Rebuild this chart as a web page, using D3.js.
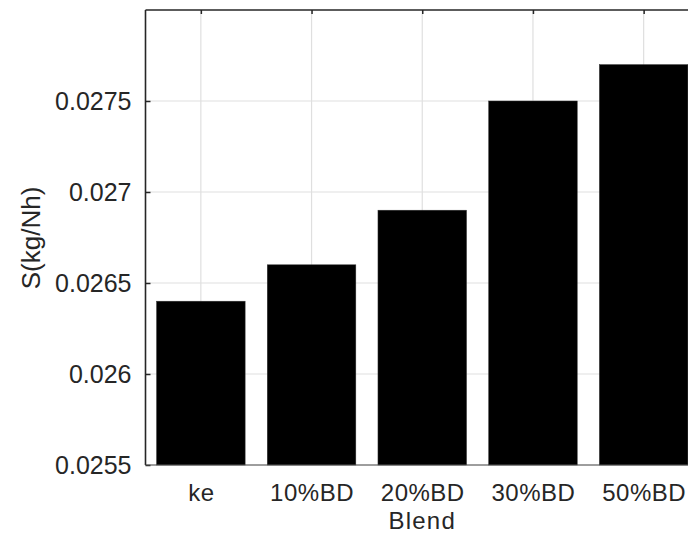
<!DOCTYPE html>
<html><head><meta charset="utf-8">
<script src="https://cdn.jsdelivr.net/npm/d3@7"></script>
<style>
html,body{margin:0;padding:0;background:#fff;overflow:hidden}
text{font-family:"Liberation Sans",Arial,Helvetica,sans-serif;fill:#262626}
</style></head><body>
<svg id="chart" width="688" height="534"></svg>
<script>
const categories = ["ke", "10%BD", "20%BD", "30%BD", "50%BD"];
const values = [0.0264, 0.0266, 0.0269, 0.0275, 0.0277];
const yTicks = [0.0255, 0.026, 0.0265, 0.027, 0.0275];
const yTickLabels = ["0.0255", "0.026", "0.0265", "0.027", "0.0275"];
const xTitle = "Blend";
const yTitle = "S(kg/Nh)";

const svg = d3.select("#chart");
const L = 145.5, R = 699, T = 10, B = 465;
const idx = categories.map((d, i) => i + 1);
const x = d3.scaleLinear().domain([0.5, 5.5]).range([L, R]);
const y = d3.scaleLinear().domain([0.0255, 0.028]).range([B, T]);
const barW = 0.8;
const FONT = "'Liberation Sans', Arial, sans-serif";

// grid
const g = svg.append("g");
g.selectAll("line.gx").data(idx).enter().append("line")
  .attr("x1", d => x(d)).attr("x2", d => x(d)).attr("y1", T).attr("y2", B)
  .attr("stroke", "#dfdfdf").attr("stroke-width", 1.2);
g.selectAll("line.gy").data(yTicks).enter().append("line")
  .attr("x1", L).attr("x2", R).attr("y1", d => y(d)).attr("y2", d => y(d))
  .attr("stroke", "#dfdfdf").attr("stroke-width", 1.2);

// bars
svg.append("g").selectAll("rect").data(values).enter().append("rect")
  .attr("x", (d, i) => x(i + 1 - barW / 2))
  .attr("width", x(1 + barW / 2) - x(1 - barW / 2))
  .attr("y", d => y(d))
  .attr("height", d => B - y(d))
  .attr("fill", "#000").attr("stroke", "#333").attr("stroke-width", 0.5);

// axes
const yAxis = d3.axisLeft(y).tickValues(yTicks).tickSize(-5).tickPadding(14)
  .tickFormat((d, i) => yTickLabels[i]);
const ya = svg.append("g").attr("transform", `translate(${L},0)`).call(yAxis);
ya.select(".domain").remove();
ya.selectAll("line").attr("stroke", "#262626").attr("stroke-width", 1.5);
ya.selectAll("text").attr("font-size", 25).attr("fill", "#262626")
  .style("font-family", FONT);

const xAxis = d3.axisBottom(x).tickValues(idx).tickSize(0).tickPadding(19)
  .tickFormat((d, i) => categories[i]);
const xa = svg.append("g").attr("transform", `translate(0,${B})`).call(xAxis);
xa.select(".domain").remove();
xa.selectAll("text").attr("font-size", 24).attr("letter-spacing", 0.5).attr("fill", "#262626")
  .style("font-family", FONT);

// top ticks
const xt = d3.axisTop(x).tickValues(idx).tickSize(-4).tickFormat("");
const xta = svg.append("g").attr("transform", `translate(0,${T})`).call(xt);
xta.select(".domain").remove();
xta.selectAll("line").attr("stroke", "#262626").attr("stroke-width", 1.5);

// frame lines
svg.append("line").attr("x1", L).attr("x2", L).attr("y1", T).attr("y2", B)
  .attr("stroke", "#262626").attr("stroke-width", 1.6);
svg.append("line").attr("x1", L).attr("x2", R).attr("y1", T).attr("y2", T)
  .attr("stroke", "#262626").attr("stroke-width", 1.6);
svg.append("line").attr("x1", L).attr("x2", R).attr("y1", B).attr("y2", B)
  .attr("stroke", "#4d4d4d").attr("stroke-width", 1);

// titles
svg.append("text").attr("x", x(3)).attr("y", 528.5).attr("text-anchor", "middle")
  .attr("font-size", 24).attr("letter-spacing", 1.2).text(xTitle);
svg.append("text").attr("transform", "translate(40,238) rotate(-90)")
  .attr("text-anchor", "middle").attr("font-size", 26).text(yTitle);
</script></body></html>
